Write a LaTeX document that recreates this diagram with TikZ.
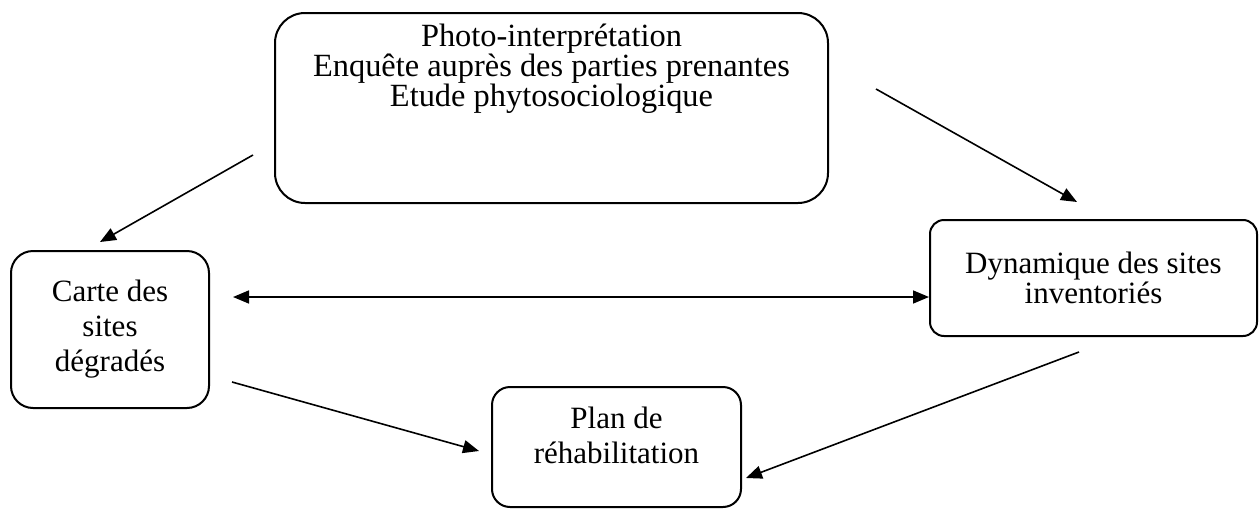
\documentclass[tikz,border=0pt]{standalone}
\usepackage{fontspec}
\setmainfont{Liberation Serif}
\usetikzlibrary{arrows.meta}

\begin{document}
\begin{tikzpicture}[
  x=0.5pt, y=-0.5pt,
  box/.style={draw, line width=1pt, align=center, inner sep=0pt, font=\fontsize{15.5}{17.5}\selectfont},
  arr/.style={-{Triangle[length=8pt,width=6.5pt]}, line width=0.8pt},
  darr/.style={arr, {Triangle[length=8pt,width=6.5pt]}-{Triangle[length=8pt,width=6.5pt]}}
]
\useasboundingbox (0,0) rectangle (1260,509);

\node[box, rounded corners=15pt, minimum width=276.5pt, minimum height=95pt,
  font=\fontsize{16.2}{15}\selectfont] (survey) at (551.5,108)
  {\parbox[c][84pt][t]{260pt}{\centering Photo-interprétation\\Enquête auprès des parties prenantes\\Etude phytosociologique}};
\node[box, rounded corners=11pt, minimum width=99pt, minimum height=78.5pt] (carte) at (110,329.5)
  {Carte des\\sites\\dégradés};
\node[box, rounded corners=7pt, minimum width=163.5pt, minimum height=58pt,
  font=\fontsize{15.5}{15}\selectfont] (dyn) at (1093.5,278)
  {Dynamique des sites\\inventoriés};
\node[box, rounded corners=9pt, minimum width=124.5pt, minimum height=60pt] (plan) at (616.5,447)
  {\parbox[c][40pt][t]{120pt}{\centering Plan de\\réhabilitation}};

\coordinate (s1) at (253,155);
\coordinate (e1) at (100,242);
\coordinate (s2) at (876,89);
\coordinate (e2) at (1077,202);
\coordinate (s3) at (233,297);
\coordinate (e3) at (929,297);
\coordinate (s4) at (232,382);
\coordinate (e4) at (479,451);
\coordinate (s5) at (1079,352);
\coordinate (e5) at (746,478);

\draw[arr] (s1) -- (e1);
\draw[arr] (s2) -- (e2);
\draw[darr] (s3) -- (e3);
\draw[arr] (s4) -- (e4);
\draw[arr] (s5) -- (e5);
\end{tikzpicture}
\end{document}
